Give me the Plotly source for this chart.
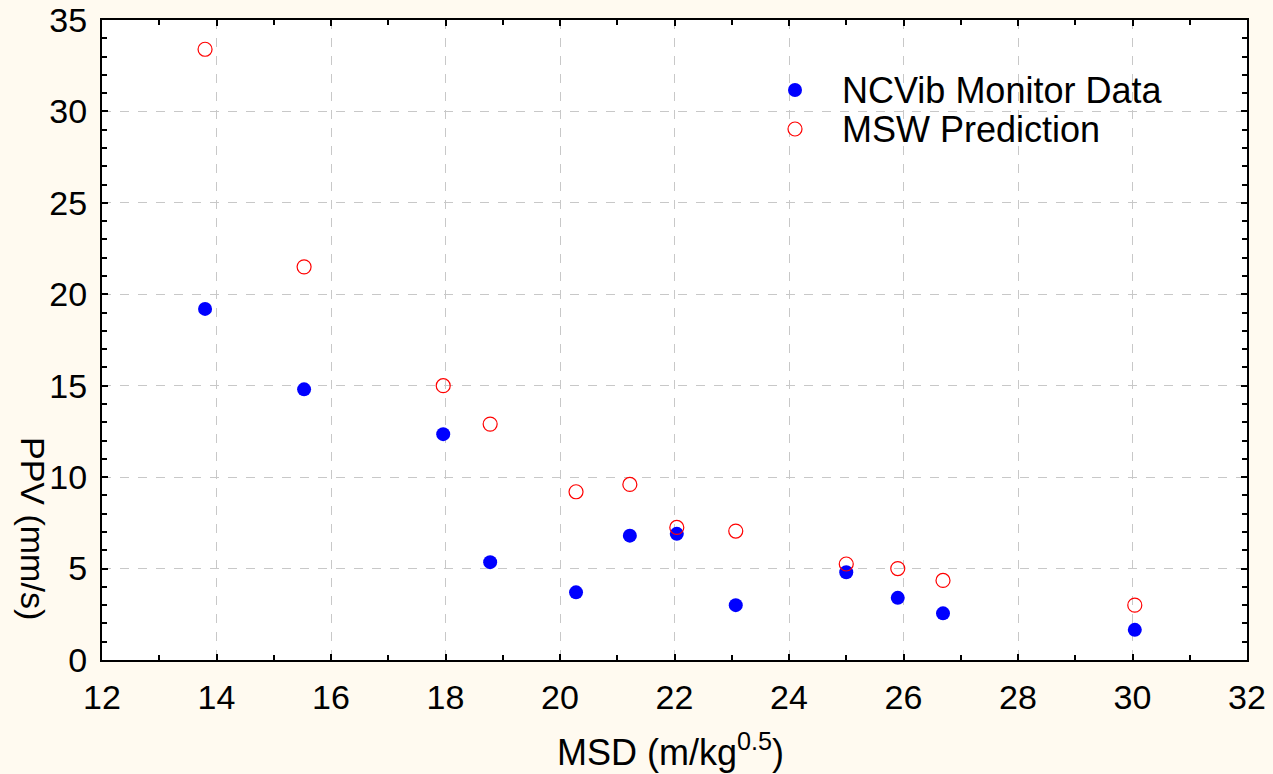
import plotly.graph_objects as go

msd = [13.80, 15.53, 17.96, 18.78, 20.28, 21.22, 22.04, 23.07, 25.00, 25.90, 26.69, 30.04]
ppv_monitor = [19.2, 14.8, 12.35, 5.35, 3.7, 6.8, 6.9, 3.0, 4.8, 3.4, 2.55, 1.65]
ppv_msw = [33.4, 21.5, 15.0, 12.9, 9.2, 9.6, 7.25, 7.05, 5.25, 5.0, 4.35, 3.0]
series_names = ["NCVib Monitor Data", "MSW Prediction"]

x_ticks = list(range(12, 33, 2))
y_ticks = list(range(0, 36, 5))

font_family = "Liberation Sans, Arial, sans-serif"
W, H = 1273, 774
ML, MR, MT, MB = 102, 26, 20, 114
PW, PH = W - ML - MR, H - MT - MB


def px_to_paper(px, py):
    return (px - ML) / PW, (H - MB - py) / PH


fig = go.Figure()
fig.add_trace(go.Scatter(
    x=msd, y=ppv_monitor, mode="markers", name=series_names[0], showlegend=False,
    marker=dict(symbol="circle", size=14, color="#0000FF", line=dict(width=0)),
))
fig.add_trace(go.Scatter(
    x=msd, y=ppv_msw, mode="markers", name=series_names[1], showlegend=False,
    marker=dict(symbol="circle-open", size=14, color="#FF0000", line=dict(width=1.2)),
))

axis_common = dict(
    showline=True, linecolor="black", linewidth=2, mirror="allticks",
    ticks="inside", ticklen=6, tickwidth=2, tickcolor="black",
    showgrid=True, gridcolor="#C8C8C8", griddash="dash", gridwidth=1,
    zeroline=False, automargin=False,
    tickfont=dict(family=font_family, size=34, color="black"),
)

fig.update_xaxes(
    range=[12, 32], tickmode="array", tickvals=x_ticks,
    minor=dict(dtick=1, ticks="inside", ticklen=5, tickwidth=2, tickcolor="black", showgrid=False),
    ticklabelstandoff=6,
    **axis_common,
)
fig.update_yaxes(
    range=[0, 35], tickmode="array", tickvals=y_ticks,
    minor=dict(dtick=1, ticks="inside", ticklen=5, tickwidth=2, tickcolor="black", showgrid=False),
    ticklabelstandoff=6,
    **axis_common,
)

# axis titles
tx, ty = px_to_paper(670, 750)
fig.add_annotation(
    text="MSD (m/kg<sup>0.5</sup>)", xref="paper", yref="paper",
    x=tx, y=ty, xanchor="center", yanchor="middle", showarrow=False,
    font=dict(family=font_family, size=36, color="black"),
)
tx, ty = px_to_paper(33, 528)
fig.add_annotation(
    text="PPV (mm/s)", xref="paper", yref="paper", textangle=90,
    x=tx, y=ty, xanchor="center", yanchor="middle", showarrow=False,
    font=dict(family=font_family, size=34, color="black"),
)

# legend (drawn manually to match compact row spacing)
legend_rows = [(90, series_names[0], "#0000FF", "#0000FF"), (129, series_names[1], "white", "#FF0000")]
for py, name, fill, line in legend_rows:
    cx, cy = px_to_paper(795, py)
    rx, ry = 7 / PW, 7 / PH
    fig.add_shape(type="circle", xref="paper", yref="paper",
                  x0=cx - rx, x1=cx + rx, y0=cy - ry, y1=cy + ry,
                  fillcolor=fill, line=dict(color=line, width=1.2 if fill == "white" else 0))
    lx, ly = px_to_paper(840, py)
    fig.add_annotation(text=name, xref="paper", yref="paper", x=lx, y=ly,
                       xanchor="left", yanchor="middle", showarrow=False,
                       font=dict(family=font_family, size=36, color="black"))

fig.update_layout(
    width=W, height=H,
    margin=dict(l=ML, r=MR, t=MT, b=MB),
    paper_bgcolor="#FFFAF0", plot_bgcolor="white",
    showlegend=False,
)

fig.write_html(
    "out.html",
    config={"displayModeBar": False},
    post_script="document.body.style.margin='0';document.body.style.background='#FFFAF0';",
)
